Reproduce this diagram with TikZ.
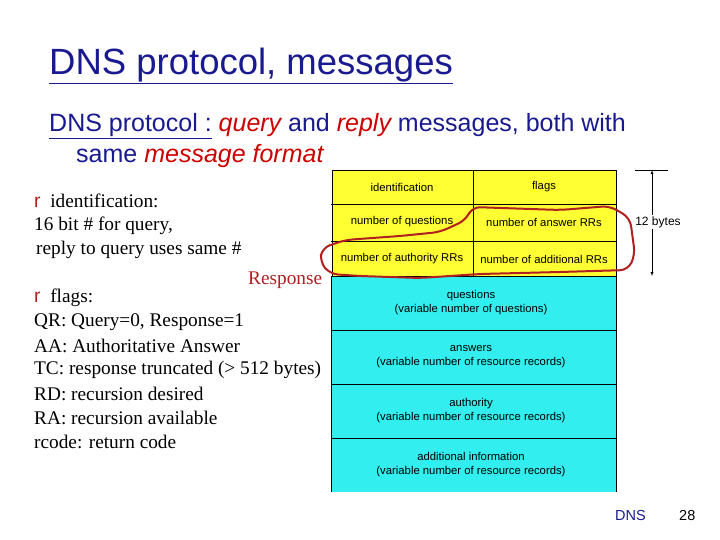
\documentclass[tikz,border=0pt]{standalone}
\usepackage{fontspec}
\setmainfont{Liberation Serif}
\newfontfamily\ssf{Liberation Sans}
\definecolor{ttl}{HTML}{1A1A90}
\definecolor{rd}{HTML}{CC0000}
\definecolor{yl}{HTML}{FFFF33}
\definecolor{cy}{HTML}{33EEEE}
\definecolor{dr}{HTML}{B02020}
\begin{document}
\begin{tikzpicture}[x=1pt,y=-1pt,
  cell/.style={line width=0.6pt,font=\ssf\fontsize{11.3}{14}\selectfont,align=center,inner sep=0},
  body/.style={anchor=west,font=\fontsize{19.3}{22}\selectfont,inner sep=0}]
\useasboundingbox[fill=white] (0,0) rectangle (720,540);
% table
\fill[yl] (332,170) rectangle (616,276);
\fill[cy] (331,276) rectangle (616,492);
\draw[line width=0.6pt] (332,170) -- (616,170) -- (616,492);
\draw[line width=0.6pt] (332,170) -- (332,276);
\draw[line width=0.6pt] (331,276) -- (331,492);
\foreach \yy in {204,241,276,330,384,438} \draw[line width=0.6pt] (331,\yy) -- (616,\yy);
\draw[line width=0.6pt] (473,170) -- (473,276);
\node[cell] (id) at (402,187) {identification};
\node[cell] (fl) at (544,187) {flags};
\node[cell] (nq) at (402,222) {number of questions};
\node[cell] (na) at (544,222) {number of answer RRs};
\node[cell] (nau) at (402,259) {number of authority RRs};
\node[cell] (nad) at (544,259) {number of additional RRs};
\node[cell] (q) at (471,303) {questions\\(variable number of questions)};
\node[cell] (an) at (471,357) {answers\\(variable number of resource records)};
\node[cell] (au) at (471,411) {authority\\(variable number of resource records)};
\node[cell] (ad) at (471,465) {additional information\\(variable number of resource records)};
% 12 bytes
\coordinate (t) at (652,170); \coordinate (b) at (652,276);
\draw (635,170) -- (668,170);
\node[font=\ssf\fontsize{12}{14}\selectfont,inner sep=1pt,fill=white] (tb) at (658,222) {12 bytes};
\draw[-latex] (tb.north -| t) -- (t);
\draw[-latex] (tb.south -| b) -- (b);
% red freehand loop
\draw[dr,line width=2pt,rounded corners=8pt] (472,207) -- (560,210) -- (610,206) -- (630,218) -- (635,255) -- (628,270) -- (560,272) -- (480,274) -- (420,278) -- (360,276) -- (330,274) -- (320,262) -- (322,248) -- (345,240) -- (400,236) -- (440,232) -- (466,220) -- cycle;
% title
\node[anchor=west,text=ttl,font=\ssf\fontsize{36.5}{40}\selectfont,inner sep=0] (title) at (49,66) {\underline{DNS protocol, messages}};
\node[anchor=west,text=ttl,font=\ssf\fontsize{25}{28}\selectfont,inner sep=0] (sub1) at (49,126) {\underline{DNS protocol :} \textcolor{rd}{\itshape query} and \textcolor{rd}{\itshape reply} messages, both with};
\node[anchor=west,text=ttl,font=\ssf\fontsize{25}{28}\selectfont,inner sep=0] (sub2) at (76,156) {same \textcolor{rd}{\itshape message format}};
% left text
\node[body] (b1) at (34,201) {\textcolor{dr}{\ssf r}\enspace identification:};
\node[body] (b2) at (34,226) {16 bit \# for query,};
\node[body] (b3) at (36,250) {reply to query uses same \#};
\node[anchor=west,fill=white,text=dr,font=\fontsize{19.3}{22}\selectfont,inner sep=2pt] (resp) at (246,280) {Response};
\node[body] (b4) at (34,298) {\textcolor{dr}{\ssf r}\enspace flags:};
\node[body] (b5) at (34,322) {QR: Query=0, Response=1};
\node[body] (b6) at (34,346) {AA: Authoritative Answer};
\node[body] (b7) at (34,370) {TC: response truncated (> 512 bytes)};
\node[body] (b8) at (34,394) {RD: recursion desired};
\node[body] (b9) at (34,418) {RA: recursion available};
\node[body] (b10) at (34,442) {rcode: return code};
% footer
\node[anchor=west,text=ttl,font=\ssf\fontsize{14.5}{16}\selectfont,inner sep=0] (dns) at (615,516) {DNS};
\node[anchor=west,font=\ssf\fontsize{14.5}{16}\selectfont,inner sep=0] (pg) at (679,516) {28};
\end{tikzpicture}
\end{document}
